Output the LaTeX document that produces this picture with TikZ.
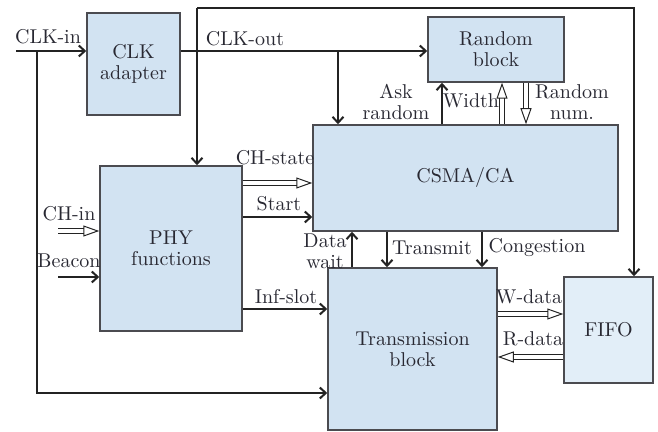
\documentclass[tikz,border=0pt]{standalone}
\usetikzlibrary{arrows.meta, calc, positioning}
\definecolor{blkcol}{RGB}{210, 227, 242}
\definecolor{fifocol}{RGB}{226, 238, 248}
\definecolor{linecol}{RGB}{35, 35, 35}
\definecolor{edgecol}{RGB}{75, 75, 80}
\definecolor{txtcol}{RGB}{40, 40, 50}
\tikzset{
  blk/.style  = {draw=edgecol, line width=0.75pt, fill=blkcol, align=center,
                 text=txtcol, inner sep=2pt},
  fifo/.style = {blk, fill=fifocol},
  lbl/.style  = {text=txtcol, align=center, inner sep=1pt},
  sig/.style  = {-{Straight Barb[length=3pt, width=5.5pt]}, draw=linecol,
                 line width=1pt},
  % the wide data paths are drawn hollow, as a double line with an open head
  bus/.style  = {-{Triangle[open, length=8pt, width=5.5pt, line width=0.5pt]},
                 draw=linecol, double=white, double distance=1.7pt,
                 line width=0.5pt},
}

\begin{document}
\begin{tikzpicture}[x=0.5pt, y=-0.5pt, font=\fontsize{10}{10.5}\selectfont]
  \useasboundingbox (0,0) rectangle (658,432);

  %% ---------------- blocks ----------------
  \node[blk, minimum width=46.5pt, minimum height=51pt] (clk) at (133.5,64)
       {CLK\\adapter};
  \node[blk, minimum width=68pt, minimum height=32.5pt] (rnd) at (496,49.5)
       {Random\\block};
  \node[blk, minimum width=152.5pt, minimum height=53pt] (csma) at (465.5,178)
       {CSMA/CA};
  \node[blk, minimum width=71pt, minimum height=82.5pt] (phy) at (171,248.5)
       {PHY\\functions};
  \node[blk, minimum width=84.5pt, minimum height=81pt] (tx) at (412.5,349)
       {Transmission\\block};
  \node[fifo, minimum width=44.5pt, minimum height=53pt] (fifo) at (608.5,330)
       {FIFO};

  %% ---------------- clock ----------------
  \coordinate (clkin) at (16,51);
  \coordinate (tap) at (37,51);
  \coordinate (low) at (37,393);
  \coordinate (topl) at (197,8);
  \coordinate (topr) at (634,8);
  \coordinate (csclk) at (338,51);

  \draw[sig] (clkin) -- (clkin -| clk.west);
  \node[lbl] (clkinl) at (48,37) {CLK-in};
  \draw[sig] (tap) -- (low) -- (low -| tx.west);

  \draw[sig] (clk.east |- clkin) -- (rnd.west |- clkin);
  \node[lbl] (clkoutl) at (245,39) {CLK-out};
  \draw[sig] (csclk) -- (csclk |- csma.north);

  \draw[sig] (topl) -- (topl |- phy.north);
  \draw[sig] (topl) -- (topr) -- (topr |- fifo.north);

  %% ---------------- random block ----------------
  \draw[sig] (csma.north -| 442,0) -- (rnd.south -| 442,0);
  \node[lbl] (askl) at (396,102) {Ask\\random};
  \draw[bus] (csma.north -| 502,0) -- (rnd.south -| 502,0);
  \node[lbl] (widthl) at (471,101) {Width};
  \draw[bus] (rnd.south -| 526,0) -- (csma.north -| 526,0);
  \node[lbl] (rnuml) at (572,102) {Random\\num.};

  %% ---------------- PHY ----------------
  \coordinate (chin) at (58,231);
  \coordinate (bcn) at (58,277);
  \draw[bus] (chin) -- (chin -| phy.west);
  \node[lbl] (chinl) at (69,214) {CH-in};
  \draw[sig] (bcn) -- (bcn -| phy.west);
  \node[lbl] (bcnl) at (69,261) {Beacon};

  \draw[bus] (phy.east |- 0,183) -- (csma.west |- 0,183);
  \node[lbl] (chsl) at (275,158) {CH-state};
  \draw[sig] (phy.east |- 0,217) -- (csma.west |- 0,217);
  \node[lbl] (startl) at (279,204) {Start};
  \draw[sig] (phy.east |- 0,309) -- (tx.west |- 0,309);
  \node[lbl] (infl) at (286,297) {Inf-slot};

  %% ---------------- transmission ----------------
  \draw[sig] (tx.north -| 352,0) -- (csma.south -| 352,0);
  \node[lbl] (waitl) at (325,251) {Data\\wait};
  \draw[sig] (csma.south -| 387,0) -- (tx.north -| 387,0);
  \node[lbl] (txl) at (432,248) {Transmit};
  \draw[sig] (csma.south -| 482,0) -- (tx.north -| 482,0);
  \node[lbl] (congl) at (537,248) {Congestion};

  \draw[bus] (tx.east |- 0,314) -- (fifo.west |- 0,314);
  \node[lbl] (wdl) at (529,297) {W-data};
  \draw[bus] (fifo.west |- 0,357) -- (tx.east |- 0,357);
  \node[lbl] (rdl) at (533,339) {R-data};

\end{tikzpicture}
\end{document}
